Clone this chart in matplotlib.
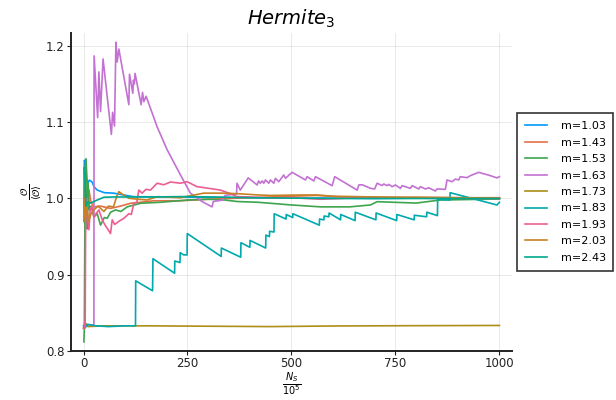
import numpy as np
import matplotlib
matplotlib.use("Agg")
import matplotlib.pyplot as plt

# Plots.jl default palette
COLORS = ["#009AFA", "#E36F47", "#3EA44E", "#C371D2", "#AC8E18",
          "#00A9AD", "#ED5E93", "#C68225", "#00A98D"]

labels = ["m=1.03", "m=1.43", "m=1.53", "m=1.63", "m=1.73",
          "m=1.83", "m=1.93", "m=2.03", "m=2.43"]

# (N_S / 1e5, O/<O>)
m103 = [(1, 0.985), (2, 1.05), (4, 1.048), (6, 1.03), (10, 1.02), (14, 1.024), (20, 1.022),
        (26, 1.015), (33, 1.011), (50, 1.0076), (72, 1.007), (97, 1.0046), (120, 1.0024),
        (200, 1.002), (300, 1.0015), (400, 1.001), (500, 1.0005), (600, 1.0005),
        (700, 1.0), (800, 1.0005), (900, 1.0), (1000, 1.0)]

m143 = [(1, 0.97), (2, 1.035), (4, 1.01), (6, 0.99), (9, 1.015), (13, 1.011), (18, 0.995),
        (25, 0.989), (41, 0.99), (65, 0.987), (89, 0.99), (113, 0.9937), (137, 0.995),
        (169, 0.997), (233, 0.997), (300, 0.999), (400, 1.001), (500, 1.003), (560, 1.004),
        (620, 1.002), (700, 1.001), (800, 1.0015), (900, 1.001), (1000, 1.001)]

m153 = [(1, 0.812), (2, 0.83), (4, 1.04), (6, 1.052), (8, 1.03), (9, 0.96), (11, 1.02),
        (14, 0.985), (18, 0.99), (25, 0.976), (33, 0.98), (41, 0.965), (50, 0.975),
        (57, 0.974), (65, 0.982), (77, 0.985), (90, 0.983), (105, 0.989), (137, 0.9937),
        (185, 0.995), (250, 0.998), (300, 0.999), (340, 0.998), (370, 0.996), (420, 0.995),
        (500, 0.9915), (570, 0.989), (640, 0.989), (690, 0.9915), (706, 0.9958),
        (800, 0.994), (858, 0.998), (1000, 0.9993)]

m163 = [(0, 0.83), (3, 0.838), (8, 0.834), (25, 0.834), (25.5, 1.187), (34, 1.106),
        (37, 1.166), (41, 1.114), (47, 1.183), (67, 1.084), (70, 1.113), (74.5, 1.095),
        (78, 1.205), (81, 1.179), (85, 1.196), (109, 1.123), (110.6, 1.163), (118.6, 1.138),
        (120, 1.155), (122, 1.15), (124, 1.164), (138.5, 1.123), (142, 1.139), (145, 1.127),
        (150.6, 1.134), (177, 1.094), (201, 1.064), (233, 1.031), (257, 1.007),
        (285, 0.996), (309, 0.989), (312, 0.996), (335, 0.998), (340, 1.004), (368, 1.006),
        (369, 1.020), (377, 1.011), (396, 1.027), (417.5, 1.0177), (421, 1.023),
        (425, 1.020), (429.5, 1.023), (433.5, 1.020), (437.5, 1.0243), (445.5, 1.020),
        (449.5, 1.0243), (457.5, 1.020), (461.5, 1.0265), (469.5, 1.022), (481.5, 1.0308),
        (485.6, 1.0265), (501.6, 1.0343), (533.6, 1.0243), (537.7, 1.0286), (553.7, 1.023),
        (557.7, 1.0286), (597.8, 1.0168), (604, 1.0286), (658, 1.011), (662, 1.0177),
        (670, 1.018), (690, 1.0133), (700, 1.0125), (706, 1.02), (718, 1.017), (722, 1.019),
        (730, 1.0168), (734, 1.0185), (742, 1.0155), (750, 1.0177), (762, 1.0133),
        (766, 1.0168), (786, 1.0133), (790, 1.0168), (806, 1.0125), (810, 1.0155),
        (822, 1.0125), (830, 1.014), (846, 1.0098), (850, 1.0125), (870, 1.012),
        (874, 1.0243), (886, 1.022), (894, 1.0255), (902, 1.0243), (906, 1.0286),
        (922, 1.0273), (930, 1.0299), (950, 1.0343), (978, 1.030), (994, 1.027),
        (1000, 1.0286)]

m173 = [(0, 0.83), (5, 0.836), (10, 0.832), (50, 0.833), (150, 0.833), (300, 0.8325),
        (450, 0.832), (600, 0.8328), (800, 0.8332), (1000, 0.8335)]

m183 = [(0, 0.833), (3, 0.83), (10, 0.835), (30, 0.833), (60, 0.832), (100, 0.833),
        (125, 0.833), (125.5, 0.892), (166, 0.879), (167, 0.921), (219, 0.902),
        (219.5, 0.918), (232, 0.916), (232.5, 0.929), (241, 0.926), (249, 0.926),
        (249.5, 0.954), (331, 0.924), (331.5, 0.935), (378, 0.923), (378.5, 0.942),
        (400, 0.936), (400.5, 0.945), (438, 0.935), (438.5, 0.952), (447, 0.950),
        (447.5, 0.957), (458, 0.956), (458.5, 0.980), (487, 0.973), (487.5, 0.979),
        (503, 0.975), (503.5, 0.980), (567, 0.965), (567.5, 0.973), (578, 0.972),
        (578.5, 0.977), (590, 0.976), (590.5, 0.981), (618, 0.972), (618.5, 0.979),
        (653, 0.971), (653.5, 0.982), (703, 0.972), (703.5, 0.981), (753, 0.971),
        (753.5, 0.979), (795, 0.972), (795.5, 0.978), (825, 0.976), (825.5, 0.982),
        (851, 0.9775), (851.5, 0.999), (881, 0.998), (881.5, 1.0076), (994, 0.9915),
        (1000, 0.995)]

m193 = [(2, 0.83), (4, 0.84), (5, 0.95), (6, 0.99), (8, 1.0), (10, 0.975), (13, 0.959),
        (16, 0.985), (20, 0.99), (25, 0.975), (30, 0.98), (37, 0.985), (45, 0.972),
        (52, 0.965), (57, 0.961), (65, 0.954), (69, 0.972), (75, 0.966), (85, 0.97),
        (97, 0.974), (109, 0.98), (115, 0.979), (121, 0.994), (128, 0.995), (133, 1.011),
        (141, 1.007), (150, 1.012), (161, 1.011), (177, 1.02), (193, 1.018), (209, 1.0216),
        (233, 1.02), (249, 1.022), (273, 1.0155), (305, 1.013), (329, 1.011), (350, 1.007),
        (369, 1.0024), (400, 1.002), (450, 1.0005), (500, 1.001), (570, 0.999),
        (620, 1.0), (680, 1.002), (750, 1.001), (850, 1.0005), (1000, 1.0)]

m203 = [(1, 0.97), (3, 1.0), (5, 0.975), (8, 0.99), (12, 0.97), (18, 0.98), (25, 0.985),
        (35, 0.99), (49, 0.983), (60, 0.99), (72, 0.989), (80, 1.003), (85, 1.009),
        (95, 1.005), (109, 1.0003), (130, 0.999), (153, 0.998), (177, 1.0024),
        (233, 1.001), (289, 1.007), (337, 1.007), (380, 1.006), (421, 1.0046),
        (450, 1.004), (522, 1.0046), (562, 1.0046), (600, 1.003), (700, 1.002),
        (800, 1.0015), (900, 1.001), (1000, 1.0005)]

m243 = [(1, 1.04), (3, 1.03), (6, 0.99), (10, 0.995), (17, 0.994), (33, 0.998),
        (49, 1.0016), (72, 1.002), (150, 1.002), (250, 1.0025), (400, 1.001),
        (600, 1.0), (800, 1.0), (1000, 1.0)]

series = [m103, m143, m153, m163, m173, m183, m193, m203, m243]

fig = plt.figure(figsize=(6.16, 4.0), dpi=100)
ax = fig.add_axes([0.1153, 0.1225, 0.7157, 0.795])

for pts, lab, c in zip(series, labels, COLORS):
    xs, ys = zip(*pts)
    ax.plot(xs, ys, color=c, lw=1.2, label=lab)

ax.set_xlim(-30, 1030)
ax.set_ylim(0.80, 1.217)
ax.set_xticks([0, 250, 500, 750, 1000])
ax.set_yticks([0.8, 0.9, 1.0, 1.1, 1.2])
ax.set_yticklabels(["0.8", "0.9", "1.0", "1.1", "1.2"])
ax.grid(True, color="#000000", alpha=0.1, lw=0.6)
ax.set_axisbelow(True)
for s in ("top", "right"):
    ax.spines[s].set_visible(False)
for s in ("left", "bottom"):
    ax.spines[s].set_color("#222222")
    ax.spines[s].set_linewidth(1.4)
ax.tick_params(direction="out", length=3, width=0.8, labelsize=8.5,
               colors="#222222", pad=1.5)

ax.set_title(r"$Hermite_3$", fontsize=14, pad=6)
ax.set_xlabel(r"$\frac{N_S}{10^5}$", fontsize=10, labelpad=0)
ax.set_ylabel(r"$\frac{\mathcal{O}}{\langle\mathcal{O}\rangle}$", fontsize=10, labelpad=2)

leg = ax.legend(loc="center left", bbox_to_anchor=(1.012, 0.5), borderaxespad=0,
                fontsize=8, frameon=True, fancybox=False, handlelength=2.0,
                borderpad=0.7, labelspacing=0.58, handletextpad=1.2)
leg.get_frame().set_edgecolor("#000000")
leg.get_frame().set_linewidth(1.2)

fig.savefig("out.png", dpi=100, facecolor="white")
